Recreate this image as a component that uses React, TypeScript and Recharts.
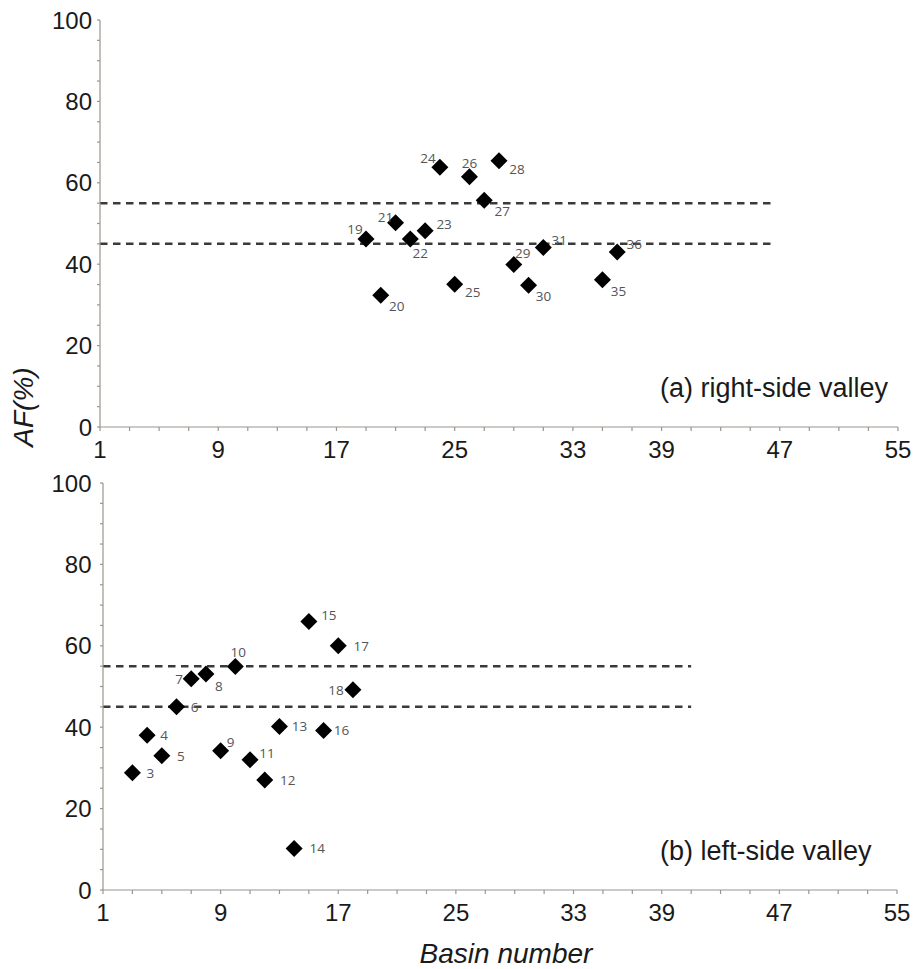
import React from 'react';
import { ScatterChart, Scatter, XAxis, YAxis, ReferenceLine } from 'recharts';

// (a) right-side valley
const rightBasins = [19, 20, 21, 22, 23, 24, 25, 26, 27, 28, 29, 30, 31, 35, 36];
const rightAF = [46.2, 32.4, 50.2, 46.2, 48.2, 63.8, 35.1, 61.5, 55.7, 65.4, 39.9, 34.8, 44.1, 36.2, 43.0];

// (b) left-side valley
const leftBasins = [3, 4, 5, 6, 7, 8, 9, 10, 11, 12, 13, 14, 15, 16, 17, 18];
const leftAF = [28.8, 38.0, 33.0, 45.0, 51.9, 53.1, 34.2, 54.9, 32.0, 27.0, 40.2, 10.2, 66.0, 39.2, 60.0, 49.2];

const xTicks = [1, 3, 5, 7, 9, 11, 13, 15, 17, 19, 21, 23, 25, 27, 29, 31, 33, 35, 37, 39, 41, 43, 45, 47, 49, 51, 53, 55];
const xTickLabels = [1, 9, 17, 25, 33, 39, 47, 55];
const yTicks = [0, 5, 10, 15, 20, 25, 30, 35, 40, 45, 50, 55, 60, 65, 70, 75, 80, 85, 90, 95, 100];
const yTickLabels = [0, 20, 40, 60, 80, 100];

const thresholds = [45, 55];
const rightThresholdEnd = 46.6;
const leftThresholdEnd = 41;

// where each basin's number sits next to its marker (px from centre)
const labelOffsets: Record<number, [number, number]> = {
  19: [-11, -10], 20: [16, 11], 21: [-10, -6], 22: [10, 14], 23: [19, -7],
  24: [-12, -9], 25: [18, 8], 26: [0, -14], 27: [18, 11], 28: [18, 8],
  29: [9, -12], 30: [15, 11], 31: [16, -8], 35: [16, 11], 36: [17, -8],
  3: [18, 0], 4: [17, 0], 5: [19, 0], 6: [18, 0], 7: [-12, 0], 8: [13, 12],
  9: [10, -9], 10: [3, -15], 11: [17, -7], 12: [23, 0], 13: [20, 0],
  14: [23, 0], 15: [20, -6], 16: [18, 0], 17: [23, 0], 18: [-17, 0],
};

const FONT = '"Liberation Sans", Arial, sans-serif';
const AXIS = '#9c948e';

const toRows = (xs: number[], ys: number[]) => xs.map((b, i) => ({ basin: b, af: ys[i] }));

const Diamond = (props: any) => {
  const { cx, cy, payload } = props;
  if (cx == null || cy == null) return <g />;
  const r = 8.5;
  const [dx, dy] = labelOffsets[payload.basin] || [15, 0];
  return (
    <g>
      <polygon points={`${cx},${cy - r} ${cx + r},${cy} ${cx},${cy + r} ${cx - r},${cy}`} fill="#000" />
      <text
        x={cx + dx}
        y={cy + dy}
        textAnchor="middle"
        dominantBaseline="central"
        fontSize={13.5}
        fontFamily='"Open Sans", sans-serif'
        fill="#555"
      >
        {payload.basin}
      </text>
    </g>
  );
};

const makeXTick = (dy: number) => (props: any) => {
  const { x, y, payload } = props;
  if (!xTickLabels.includes(payload.value)) return <g />;
  return (
    <text x={x} y={y + dy} textAnchor="middle" fontSize={24} fontFamily={FONT} fill="#1a1a1a">
      {payload.value}
    </text>
  );
};

const makeYTick = (dx: number) => (props: any) => {
  const { x, y, payload } = props;
  if (!yTickLabels.includes(payload.value)) return <g />;
  return (
    <text x={x + dx} y={y} textAnchor="end" dominantBaseline="central" fontSize={24} fontFamily={FONT} fill="#1a1a1a">
      {payload.value}
    </text>
  );
};

interface PanelProps {
  rows: { basin: number; af: number }[];
  top: number;
  marginTop: number;
  marginRight: number;
  yWidth: number;
  xHeight: number;
  yLabelDx: number;
  thresholdEnd: number;
}

const Panel: React.FC<PanelProps> = ({ rows, top, marginTop, marginRight, yWidth, xHeight, yLabelDx, thresholdEnd }) => (
  <div style={{ position: 'absolute', left: 0, top }}>
    <ScatterChart width={923} height={470} margin={{ top: marginTop, right: marginRight, left: 0, bottom: 0 }}>
      <XAxis
        type="number"
        dataKey="basin"
        domain={[1, 55]}
        ticks={xTicks}
        interval={0}
        height={xHeight}
        tickSize={4}
        tickMargin={0}
        stroke={AXIS}
        strokeWidth={1.2}
        tick={makeXTick(27)}
      />
      <YAxis
        type="number"
        dataKey="af"
        domain={[0, 100]}
        ticks={yTicks}
        interval={0}
        width={yWidth}
        tickSize={3}
        tickMargin={0}
        stroke={AXIS}
        strokeWidth={1.2}
        tick={makeYTick(yLabelDx)}
      />
      {thresholds.map((t) => (
        <ReferenceLine
          key={t}
          segment={[{ x: 1, y: t }, { x: thresholdEnd, y: t }]}
          stroke="#3a3a3a"
          strokeWidth={2.5}
          strokeDasharray="7.5 5.5"
        />
      ))}
      <Scatter data={rows} shape={Diamond} isAnimationActive={false} />
    </ScatterChart>
  </div>
);

export default function App() {
  return (
    <div style={{ position: 'absolute', left: 0, top: 0, width: 923, height: 969, background: '#fff' }}>
      <Panel
        rows={toRows(rightBasins, rightAF)}
        top={0}
        marginTop={20}
        marginRight={25}
        yWidth={100}
        xHeight={43}
        yLabelDx={-5}
        thresholdEnd={rightThresholdEnd}
      />
      <Panel
        rows={toRows(leftBasins, leftAF)}
        top={470}
        marginTop={13}
        marginRight={26}
        yWidth={103}
        xHeight={50}
        yLabelDx={-8.5}
        thresholdEnd={leftThresholdEnd}
      />
      <svg width={923} height={969} style={{ position: 'absolute', left: 0, top: 0, pointerEvents: 'none' }}>
        <text x={660} y={397} fontSize={27} fontFamily={FONT} fill="#1a1a1a">(a) right-side valley</text>
        <text x={660} y={860} fontSize={27} fontFamily={FONT} fill="#1a1a1a">(b) left-side valley</text>
        <text
          x={33}
          y={407}
          transform="rotate(-90 33 407)"
          textAnchor="middle"
          fontSize={28}
          fontStyle="italic"
          fontFamily={FONT}
          fill="#1a1a1a"
        >
          AF(%)
        </text>
        <text x={506} y={963} textAnchor="middle" fontSize={28} fontStyle="italic" fontFamily={FONT} fill="#1a1a1a">
          Basin number
        </text>
      </svg>
    </div>
  );
}
